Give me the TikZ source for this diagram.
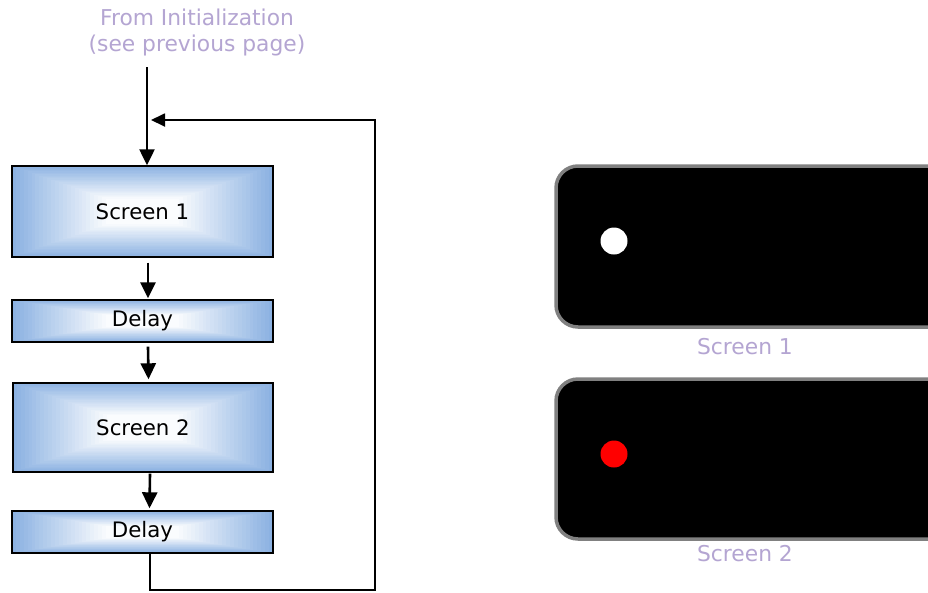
\documentclass[tikz,border=0pt]{standalone}
\usepackage{fontspec}
\setmainfont{DejaVu Sans}
\usetikzlibrary{calc,arrows.meta}
\definecolor{lav}{RGB}{180,165,210}
\definecolor{fillblue}{RGB}{140,178,226}
\definecolor{scrgray}{RGB}{128,128,128}
\tikzset{
  gbox/.style={draw=black, line width=1.4pt, minimum width=261pt, inner sep=0pt,
    font=\fontsize{21.3}{24}\selectfont,
    path picture={
      \foreach \k in {0,...,24}{
        \pgfmathsetmacro\f{1-0.72*\k/24}
        \pgfmathtruncatemacro\p{100-4*\k}
        \fill[fillblue!\p!white]
          ($(path picture bounding box.center)!\f!(path picture bounding box.south west)$)
          rectangle
          ($(path picture bounding box.center)!\f!(path picture bounding box.north east)$);
      }}},
  arr/.style={line width=2.6pt, -{Triangle[length=16pt,width=15pt]}},
  loopline/.style={line width=1.8pt},
  lbl/.style={text=lav, font=\fontsize{21.8}{26}\selectfont, align=center},
  screen/.style={fill=black, draw=scrgray, line width=3.5pt, rounded corners=22pt}
}
\begin{document}
\begin{tikzpicture}[x=1pt,y=-1pt]
\clip (0,0) rectangle (928,592);
\fill[white] (0,0) rectangle (928,592);

% labels
\node[lbl] (from) at (197,32) {From Initialization\\(see previous page)};

% flow boxes
\node[gbox, minimum height=91pt] (s1) at (142.5,211.5) {Screen 1};
\node[gbox, minimum height=42pt] (d1) at (142.5,321) {Delay};
\node[gbox, minimum width=260pt, minimum height=89pt] (s2) at (143,427.5) {Screen 2};
\node[gbox, minimum height=42pt] (d2) at (142.5,532) {Delay};

% arrows
\coordinate (src) at (147,67);
\draw[arr, line width=2.3pt] (src) -- ($(s1.north)+(4.5,0)$);
\draw[arr] ($(s1.south)+(5.5,5)$) -- ($(d1.north)+(5.5,-1)$);
\draw[arr] ($(d1.south)+(5.5,4)$) -- ($(s2.north)+(5.5,-3)$);
\draw[arr] ($(s2.south)+(7,1)$) -- ($(d2.north)+(7,-2)$);

% loop back
\coordinate (lb) at (150,590);
\coordinate (rb) at (375,590);
\coordinate (rt) at (375,120);
\coordinate (lt) at (151,120);
\draw[loopline] ($(d2.south)+(7.5,0)$) -- (lb) -- (rb) -- (rt) -- (165,120);
\draw[line width=1.8pt, -{Triangle[length=14pt,width=13pt]}] (165,120) -- (lt);

% screens
\draw[screen] (556,166) rectangle (960,327);
\fill[white] (614,241) circle (13.5);
\node[lbl] (sc1) at (745,347) {Screen 1};

\draw[screen] (556,379) rectangle (960,539);
\fill[red] (614,454) circle (13.5);
\node[lbl] (sc2) at (745,554) {Screen 2};
\end{tikzpicture}
\end{document}
